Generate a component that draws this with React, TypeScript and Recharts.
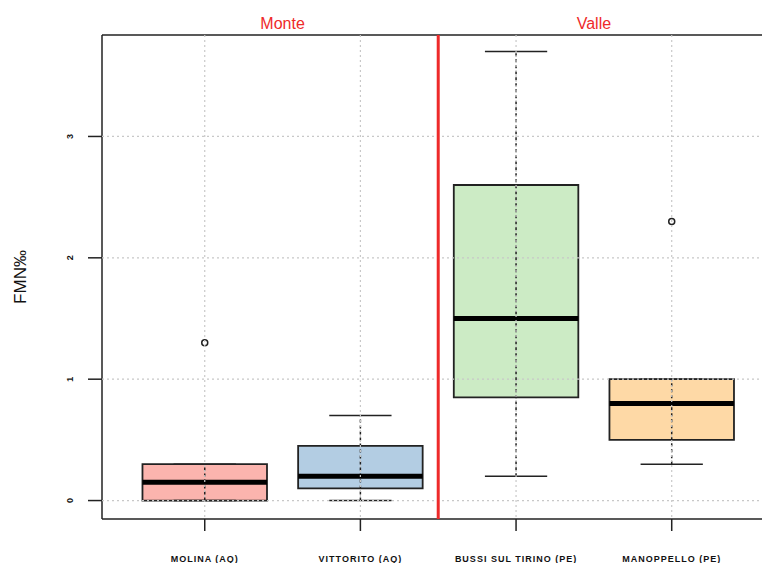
import React from 'react'
import {
  ComposedChart,
  XAxis,
  YAxis,
  CartesianGrid,
  ReferenceArea,
  ReferenceLine,
  ReferenceDot,
  Scatter,
} from 'recharts'

// sites, left to right
const sites = ['MOLINA (AQ)', 'VITTORITO (AQ)', 'BUSSI SUL TIRINO (PE)', 'MANOPPELLO (PE)']
const fills = ['#FBB4AE', '#B3CDE3', '#CCEBC5', '#FED9A6']

// five-number summaries (FMN per mille)
const lowWhisker = [0, 0, 0.2, 0.3]
const q1 = [0, 0.1, 0.85, 0.5]
const median = [0.15, 0.2, 1.5, 0.8]
const q3 = [0.3, 0.45, 2.6, 1.0]
const highWhisker = [0.3, 0.7, 3.7, 1.0]

// outliers as [site index, value]
const outliers = [
  [0, 1.3],
  [3, 2.3],
]

const groups = ['Monte', 'Valle']
const groupCenters = [0.5, 2.5]
const groupSplit = 1.5

const yTicks = [0, 1, 2, 3]
const xTicks = [0, 1, 2, 3]

const X_DOMAIN = [-0.66, 3.58]
const Y_DOMAIN = [-0.152, 3.836]

const BOX_HALF = 0.4
const CAP_HALF = 0.2
const RED = '#EE2A2A'
const INK = '#222'
const FONT = 'Liberation Sans, Arial, sans-serif'

const outlierData = outliers.map(([i, v]) => ({ x: i, y: v }))

const SiteTick = (props: any) => {
  const { x, y, payload } = props
  return (
    <text
      x={x}
      y={y + 29}
      textAnchor="middle"
      fontFamily={FONT}
      fontSize={9}
      fontWeight="bold"
      letterSpacing={1}
      fill="#111"
    >
      {sites[payload.value]}
    </text>
  )
}

const ValueTick = (props: any) => {
  const { y, payload } = props
  return (
    <text
      x={0}
      y={0}
      transform={`translate(73, ${y}) rotate(-90)`}
      textAnchor="middle"
      fontFamily={FONT}
      fontSize={9}
      fontWeight="bold"
      fill="#111"
    >
      {payload.value}
    </text>
  )
}

const Outlier = (props: any) => {
  const { cx, cy } = props
  return <circle cx={cx} cy={cy} r={3} fill="none" stroke={INK} strokeWidth={1.5} />
}

export default function App() {
  return (
    <div style={{ position: 'absolute', left: 0, top: 0, background: '#fff' }}>
      <ComposedChart
        width={762}
        height={563}
        margin={{ top: 35, right: 0, bottom: 0, left: 0 }}
      >
        <XAxis
          type="number"
          dataKey="x"
          domain={X_DOMAIN}
          allowDataOverflow
          ticks={xTicks}
          interval={0}
          height={44}
          tickSize={12}
          tick={<SiteTick />}
          axisLine={{ stroke: INK, strokeWidth: 1.5 }}
          tickLine={{ stroke: INK, strokeWidth: 1.5 }}
        />
        <YAxis
          type="number"
          domain={Y_DOMAIN}
          allowDataOverflow
          ticks={yTicks}
          interval={0}
          width={102}
          tickSize={14}
          tick={<ValueTick />}
          axisLine={{ stroke: INK, strokeWidth: 1.5 }}
          tickLine={{ stroke: INK, strokeWidth: 1.5 }}
          label={{
            value: 'FMN‰',
            angle: -90,
            position: 'insideLeft',
            offset: 20,
            textAnchor: 'middle',
            fontFamily: FONT,
            fontSize: 17,
            fill: '#111',
          }}
        />

        {sites.map((s, i) => (
          <ReferenceLine
            key={`w-${s}`}
            segment={[
              { x: i, y: lowWhisker[i] },
              { x: i, y: highWhisker[i] },
            ]}
            stroke={INK}
            strokeWidth={1.5}
            strokeDasharray="3 3"
          />
        ))}
        {sites.map((s, i) => (
          <ReferenceLine
            key={`lc-${s}`}
            segment={[
              { x: i - CAP_HALF, y: lowWhisker[i] },
              { x: i + CAP_HALF, y: lowWhisker[i] },
            ]}
            stroke={INK}
            strokeWidth={1.5}
          />
        ))}
        {sites.map((s, i) => (
          <ReferenceLine
            key={`hc-${s}`}
            segment={[
              { x: i - CAP_HALF, y: highWhisker[i] },
              { x: i + CAP_HALF, y: highWhisker[i] },
            ]}
            stroke={INK}
            strokeWidth={1.5}
          />
        ))}
        {sites.map((s, i) => (
          <ReferenceArea
            key={`b-${s}`}
            x1={i - BOX_HALF}
            x2={i + BOX_HALF}
            y1={q1[i]}
            y2={q3[i]}
            fill={fills[i]}
            fillOpacity={1}
            stroke={INK}
            strokeWidth={1.8}
          />
        ))}
        {sites.map((s, i) => (
          <ReferenceLine
            key={`m-${s}`}
            segment={[
              { x: i - BOX_HALF, y: median[i] },
              { x: i + BOX_HALF, y: median[i] },
            ]}
            stroke="#000"
            strokeWidth={5}
          />
        ))}

        <CartesianGrid
          stroke="#C8C8C8"
          strokeDasharray="2 3"
          strokeWidth={1.2}
          syncWithTicks
          zIndex={800}
        />

        {/* top edge of the frame */}
        <ReferenceLine y={Y_DOMAIN[1]} stroke={INK} strokeWidth={1.5} />
        <ReferenceLine x={groupSplit} stroke={RED} strokeWidth={3} zIndex={850} />

        {groups.map((g, k) => (
          <ReferenceDot
            key={g}
            x={groupCenters[k]}
            y={Y_DOMAIN[1]}
            r={0}
            ifOverflow="visible"
            label={{
              value: g,
              position: 'top',
              offset: 6,
              fill: RED,
              fontFamily: FONT,
              fontSize: 16,
            }}
          />
        ))}

        <Scatter
          data={outlierData}
          dataKey="y"
          shape={<Outlier />}
          isAnimationActive={false}
        />
      </ComposedChart>
    </div>
  )
}
